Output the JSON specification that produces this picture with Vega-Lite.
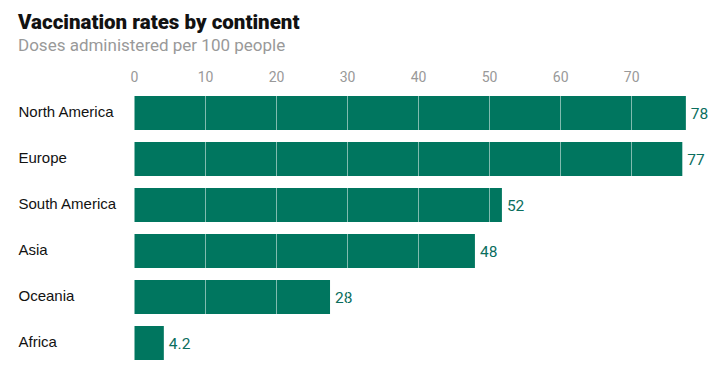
{
  "$schema": "https://vega.github.io/schema/vega-lite/v6.json",
  "autosize": {"type": "none"},
  "width": 554,
  "height": 276,
  "padding": {"left": 134, "top": 90, "right": 39, "bottom": 18},
  "background": "white",
  "title": {
    "text": "Vaccination rates by continent",
    "subtitle": "Doses administered per 100 people",
    "anchor": "start",
    "frame": "group",
    "dx": -116,
    "offset": 16,
    "font": "Roboto",
    "fontSize": 20.5,
    "fontWeight": 900,
    "color": "#121212",
    "subtitleFont": "Roboto",
    "subtitleFontSize": 17,
    "subtitleColor": "#999999",
    "subtitlePadding": 5
  },
  "data": {
    "values": [
      {"continent": "North America", "rate": 77.7, "label": "78"},
      {"continent": "Europe", "rate": 77.2, "label": "77"},
      {"continent": "South America", "rate": 51.8, "label": "52"},
      {"continent": "Asia", "rate": 48, "label": "48"},
      {"continent": "Oceania", "rate": 27.6, "label": "28"},
      {"continent": "Africa", "rate": 4.2, "label": "4.2"}
    ]
  },
  "encoding": {
    "y": {
      "field": "continent",
      "type": "nominal",
      "sort": null,
      "scale": {"paddingInner": 0.26, "paddingOuter": 0.13},
      "axis": {
        "title": null,
        "domain": false,
        "ticks": false,
        "labelAlign": "left",
        "labelPadding": 116,
        "labelOffset": -1.5,
        "labelFont": "Liberation Sans",
        "labelFontSize": 15,
        "labelColor": "#121212"
      }
    },
    "x": {
      "field": "rate",
      "type": "quantitative",
      "scale": {"domain": [0, 78], "nice": false},
      "axis": {
        "orient": "top",
        "title": null,
        "values": [0, 10, 20, 30, 40, 50, 60, 70],
        "domain": false,
        "ticks": false,
        "labelPadding": 6,
        "labelFont": "Roboto",
        "labelFontSize": 14,
        "labelColor": "#999999",
        "labelFlush": false,
        "grid": true,
        "gridColor": "#ffffff",
        "gridOpacity": 0.5,
        "gridWidth": 1,
        "zindex": 1
      }
    }
  },
  "layer": [
    {"mark": {"type": "bar", "color": "#00765f"}},
    {
      "mark": {
        "type": "text",
        "align": "left",
        "baseline": "middle",
        "dx": 5,
        "dy": 1,
        "font": "Roboto",
        "fontSize": 15.5,
        "color": "#0b6e5e"
      },
      "encoding": {"text": {"field": "label"}}
    }
  ],
  "config": {"view": {"stroke": null}}
}
